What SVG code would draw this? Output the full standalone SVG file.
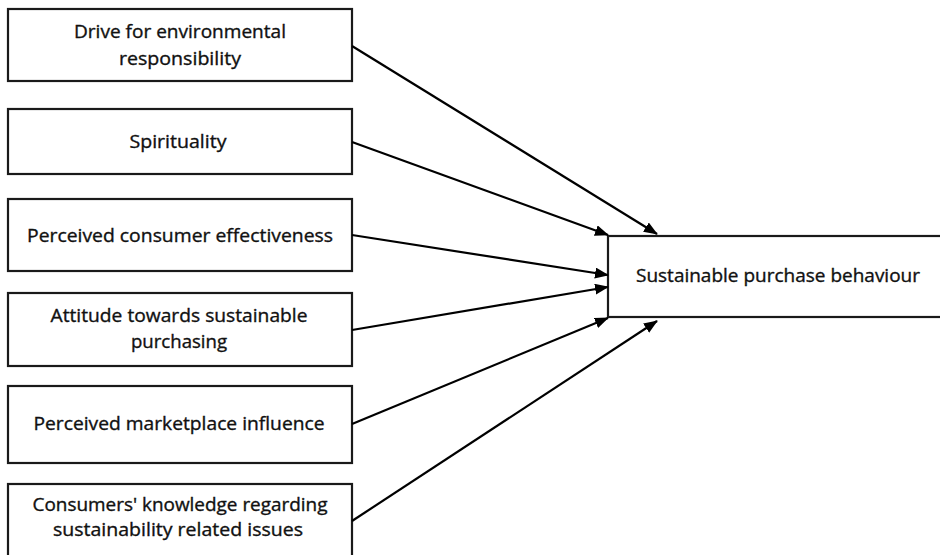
<svg xmlns="http://www.w3.org/2000/svg" width="940" height="555" viewBox="0 0 940 555">
  <style>
    .box { fill: #ffffff; stroke: #1a1a1a; stroke-width: 2.2; }
    .lbl { font-family: "Open Sans", "Noto Sans", "DejaVu Sans", sans-serif; font-size: 18px; fill: #111111; stroke: #111111; stroke-width: 0.35; text-anchor: middle; }
    .link { stroke: #000000; stroke-width: 2.2; fill: none; marker-end: url(#arrow); }
  </style>
  <defs>
    <marker id="arrow" markerUnits="userSpaceOnUse" markerWidth="14" markerHeight="12" refX="13" refY="5.5" orient="auto">
      <path d="M0,0 L14,5.5 L0,11 z" fill="#000000"/>
    </marker>
  </defs>
  <rect width="940" height="555" fill="#ffffff"/>

  <g id="drive">
    <rect class="box" x="8" y="9" width="344" height="72"/>
    <text class="lbl" x="180" y="38" textLength="212" lengthAdjust="spacingAndGlyphs">Drive for environmental</text>
    <text class="lbl" x="180" y="65" textLength="122" lengthAdjust="spacingAndGlyphs">responsibility</text>
  </g>

  <g id="spirituality">
    <rect class="box" x="8" y="109" width="344" height="65"/>
    <text class="lbl" x="178" y="148" textLength="97" lengthAdjust="spacingAndGlyphs">Spirituality</text>
  </g>

  <g id="effectiveness">
    <rect class="box" x="8" y="199" width="344" height="72"/>
    <text class="lbl" x="180" y="242" textLength="306" lengthAdjust="spacingAndGlyphs">Perceived consumer effectiveness</text>
  </g>

  <g id="attitude">
    <rect class="box" x="8" y="293" width="344" height="73"/>
    <text class="lbl" x="179" y="322" textLength="257" lengthAdjust="spacingAndGlyphs">Attitude towards sustainable</text>
    <text class="lbl" x="179" y="348" textLength="96" lengthAdjust="spacingAndGlyphs">purchasing</text>
  </g>

  <g id="marketplace">
    <rect class="box" x="8" y="386" width="344" height="77"/>
    <text class="lbl" x="179" y="430" textLength="291" lengthAdjust="spacingAndGlyphs">Perceived marketplace influence</text>
  </g>

  <g id="knowledge">
    <rect class="box" x="8" y="484" width="344" height="80"/>
    <text class="lbl" x="180" y="511" textLength="295" lengthAdjust="spacingAndGlyphs">Consumers' knowledge regarding</text>
    <text class="lbl" x="178" y="536" textLength="250" lengthAdjust="spacingAndGlyphs">sustainability  related issues</text>
  </g>

  <g id="behaviour">
    <rect class="box" x="608" y="236" width="345" height="81"/>
    <text class="lbl" x="778" y="282" textLength="284" lengthAdjust="spacingAndGlyphs">Sustainable purchase behaviour</text>
  </g>

  <g id="connectors">
    <line class="link" x1="352" y1="46" x2="657" y2="234"/>
    <line class="link" x1="352" y1="142" x2="608" y2="235"/>
    <line class="link" x1="352" y1="235" x2="608" y2="275"/>
    <line class="link" x1="352" y1="330" x2="608" y2="287"/>
    <line class="link" x1="352" y1="424" x2="608" y2="318"/>
    <line class="link" x1="352" y1="521" x2="657" y2="321"/>
  </g>
</svg>
